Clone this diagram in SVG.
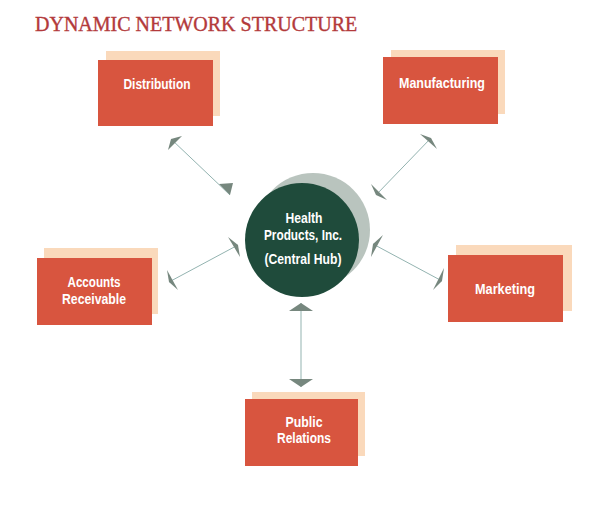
<svg xmlns="http://www.w3.org/2000/svg" width="599" height="513" viewBox="0 0 599 513">
<style>
.title{font-family:"Liberation Serif","Times New Roman",serif;font-size:20px;fill:#b33a3b;stroke:#b33a3b;stroke-width:0.35;}
.shadow{fill:#fad9bb;}
.box{fill:#d8553f;}
.lbl{font-family:"Liberation Sans",Arial,sans-serif;font-weight:bold;font-size:14px;fill:#ffffff;text-anchor:middle;}
.conn{stroke:#93b3b0;stroke-width:1;fill:none;}
.head{fill:#76877e;}
</style>
<rect x="0" y="0" width="599" height="513" fill="#ffffff"/>
<text class="title" x="35" y="31">DYNAMIC NETWORK STRUCTURE</text>

<g id="connectors">
  <g id="c-distribution">
    <line class="conn" x1="171" y1="139" x2="230" y2="195"/>
    <polygon class="head" points="171,139 168,150 182,136"/>
    <polygon class="head" points="230,195 219,184 233,183"/>
  </g>
  <g id="c-manufacturing">
    <line class="conn" x1="431" y1="138" x2="376" y2="195"/>
    <polygon class="head" points="431,138 420,134 437,149"/>
    <polygon class="head" points="376,195 371,184 387,200"/>
  </g>
  <g id="c-accounts">
    <line class="conn" x1="169" y1="282" x2="238" y2="245"/>
    <polygon class="head" points="238,245 228,237 240,257"/>
    <polygon class="head" points="169,282 167,270 178,290"/>
  </g>
  <g id="c-marketing">
    <line class="conn" x1="373" y1="244" x2="442" y2="281"/>
    <polygon class="head" points="373,244 383,235 371,257"/>
    <polygon class="head" points="442,281 444,268 433,290"/>
  </g>
  <g id="c-public">
    <line class="conn" x1="301" y1="303" x2="301" y2="387"/>
    <polygon class="head" points="301,303 289,311 313,311"/>
    <polygon class="head" points="301,387 289,379 313,379"/>
  </g>
</g>

<g id="hub">
  <circle cx="313" cy="230" r="57" fill="#b9c4be"/>
  <circle cx="302" cy="240" r="57" fill="#1f4b3b"/>
  <text class="lbl" x="304" y="223" textLength="37" lengthAdjust="spacingAndGlyphs">Health</text>
  <text class="lbl" x="303" y="240" textLength="78" lengthAdjust="spacingAndGlyphs">Products, Inc.</text>
  <text class="lbl" x="303" y="264" textLength="77" lengthAdjust="spacingAndGlyphs">(Central Hub)</text>
</g>

<g id="distribution">
  <rect class="shadow" x="106" y="51" width="114" height="65"/>
  <rect class="box" x="98" y="60" width="115" height="66"/>
  <text class="lbl" x="157" y="89" textLength="67" lengthAdjust="spacingAndGlyphs">Distribution</text>
</g>

<g id="manufacturing">
  <rect class="shadow" x="391" y="50" width="114" height="64"/>
  <rect class="box" x="383" y="57" width="115" height="67"/>
  <text class="lbl" x="442" y="88" textLength="86" lengthAdjust="spacingAndGlyphs">Manufacturing</text>
</g>

<g id="accounts-receivable">
  <rect class="shadow" x="44" y="248" width="114" height="66"/>
  <rect class="box" x="37" y="258" width="115" height="67"/>
  <text class="lbl" x="94" y="287" textLength="53" lengthAdjust="spacingAndGlyphs">Accounts</text>
  <text class="lbl" x="94" y="304" textLength="64" lengthAdjust="spacingAndGlyphs">Receivable</text>
</g>

<g id="marketing">
  <rect class="shadow" x="456" y="245" width="116" height="66"/>
  <rect class="box" x="448" y="255" width="115" height="67"/>
  <text class="lbl" x="505" y="294" textLength="60" lengthAdjust="spacingAndGlyphs">Marketing</text>
</g>

<g id="public-relations">
  <rect class="shadow" x="252" y="392" width="113" height="64"/>
  <rect class="box" x="245" y="399" width="113" height="67"/>
  <text class="lbl" x="304" y="427" textLength="37" lengthAdjust="spacingAndGlyphs">Public</text>
  <text class="lbl" x="304" y="443" textLength="54" lengthAdjust="spacingAndGlyphs">Relations</text>
</g>
</svg>
